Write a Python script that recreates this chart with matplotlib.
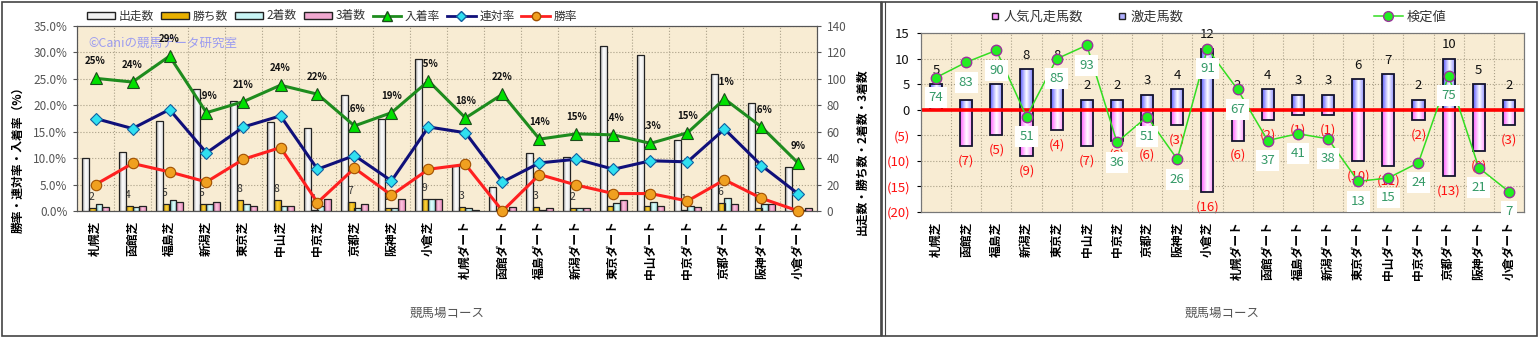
import numpy as np
import matplotlib
matplotlib.use('Agg')
import matplotlib.pyplot as plt
from matplotlib.colors import LinearSegmentedColormap
from matplotlib.lines import Line2D
from matplotlib.patches import Patch, Rectangle
from matplotlib.ticker import FuncFormatter

plt.rcParams['font.family'] = ['Noto Sans CJK JP', 'DejaVu Sans']

# course list (turf then dirt)
courses = ['札幌芝', '函館芝', '福島芝', '新潟芝', '東京芝', '中山芝', '中京芝', '京都芝', '阪神芝', '小倉芝',
           '札幌ダート', '函館ダート', '福島ダート', '新潟ダート', '東京ダート', '中山ダート', '中京ダート',
           '京都ダート', '阪神ダート', '小倉ダート']

# counts (right axis of the left chart)
runs = [40, 45, 68, 92, 83, 67, 63, 88, 70, 115, 34, 18, 44, 41, 125, 118, 54, 104, 82, 33]
wins = [2, 4, 5, 5, 8, 8, 1, 7, 2, 9, 3, 0, 3, 2, 4, 4, 1, 6, 2, 0]
second = [5, 3, 8, 5, 5, 4, 4, 2, 2, 9, 2, 1, 1, 2, 6, 7, 4, 10, 5, 1]
third = [3, 4, 7, 7, 4, 4, 9, 5, 9, 9, 1, 3, 2, 2, 8, 4, 3, 5, 5, 2]

# rates in % (left axis)
place_rate = [25.1, 24.4, 29.3, 18.6, 20.7, 23.8, 22.1, 16.1, 18.6, 24.6,
              17.6, 22.1, 13.6, 14.6, 14.4, 12.8, 14.8, 21.2, 15.9, 9.0]
quinella_rate = [17.5, 15.6, 19.2, 11.0, 15.9, 18.0, 7.9, 10.5, 5.7, 15.9,
                 14.8, 5.5, 9.1, 9.8, 7.9, 9.5, 9.3, 15.5, 8.6, 3.2]
win_rate = [5.0, 9.0, 7.4, 5.5, 9.8, 12.0, 1.6, 8.1, 3.0, 7.9,
            8.8, 0.0, 6.9, 4.9, 3.3, 3.3, 1.9, 5.9, 2.4, 0.0]

# right chart
hot_runs = [5, 2, 5, 8, 8, 2, 2, 3, 4, 12, 2, 4, 3, 3, 6, 7, 2, 10, 5, 2]      # 激走馬数
fav_flops = [0, 7, 5, 9, 4, 7, 6, 6, 3, 16, 6, 2, 1, 1, 10, 11, 2, 13, 8, 3]   # 人気凡走馬数
score = [74, 83, 90, 51, 85, 93, 36, 51, 26, 91, 67, 37, 41, 38, 13, 15, 24, 75, 21, 7]

W, H = 1539, 337
fig = plt.figure(figsize=(W / 100, H / 100), dpi=100)


def fx(px):
    return px / W


def fy(py):
    return 1 - py / H


def box(x0, y0, x1, y1):
    return [fx(x0), fy(y1), (x1 - x0) / W, (y1 - y0) / H]


BG = '#f8ecd3'
GRID = dict(color='#aaa088', linestyle=':', linewidth=0.8)


def shade(ax, bars, colors, z):
    # fill each bar with a horizontal gradient, clipped to the bar outline
    cmap = LinearSegmentedColormap.from_list('shade', colors)
    grad = np.linspace(0, 1, 64).reshape(1, -1)
    for b in bars:
        h = b.get_height()
        if h == 0:
            continue
        x0, y0, w = b.get_x(), b.get_y(), b.get_width()
        im = ax.imshow(grad, cmap=cmap, extent=(x0, x0 + w, y0, y0 + h),
                       aspect='auto', interpolation='bilinear', zorder=z)
        im.set_clip_path(b)


x = np.arange(len(courses))

# ---------------- left chart ----------------
ax_cnt = fig.add_axes(box(77, 26, 817, 211))
ax_cnt.set_facecolor(BG)
ax_rate = ax_cnt.twinx()

bw = 0.184
offs = [-1.5 * bw, -0.5 * bw, 0.5 * bw, 1.5 * bw]
bar_styles = [
    (runs, ['#9a9a9a', '#ffffff', '#e4e4e4']),
    (wins, ['#b88a00', '#ffd23a', '#e0a800']),
    (second, ['#6cbcbc', '#e6ffff', '#a8e8e8']),
    (third, ['#c0608e', '#ffc6e2', '#e88cbc']),
]
for off, (vals, cols) in zip(offs, bar_styles):
    bars = ax_cnt.bar(x + off, vals, bw, facecolor='none', edgecolor='#222222',
                      linewidth=0.9, zorder=3)
    shade(ax_cnt, bars, cols, 2.9)

for i, v in enumerate(wins):
    if v:
        ax_cnt.annotate(str(v), (i + offs[1], v), textcoords='offset pixels', xytext=(-1, 11),
                        ha='center', va='center', fontsize=7.5, color='#333333', zorder=2)

# place-rate labels sit behind the bars
for i, v in enumerate(place_rate):
    ax_cnt.annotate(f'{v:.0f}%', (i, v), xycoords=ax_rate.transData, textcoords='offset pixels',
                    xytext=(0, 17), ha='center', va='center', fontsize=7, fontweight='bold',
                    color='#111111', zorder=2)

ax_cnt.text(0.015, 0.908, '©Caniの競馬データ研究室', transform=ax_cnt.transAxes,
            color='#9c9cf0', fontsize=9, va='center', zorder=1)

ax_rate.plot(x, place_rate, color='#1e8c1e', lw=2.2, marker='^', ms=9, mfc='#00e000',
             mec='#1c4c1c', mew=0.8, zorder=4, clip_on=False)
ax_rate.plot(x, quinella_rate, color='#10107a', lw=2.2, marker='D', ms=6, mfc='#30e0f0',
             mec='#1060a0', mew=0.8, zorder=4, clip_on=False)
ax_rate.plot(x, win_rate, color='#ff2020', lw=2.2, marker='o', ms=7.5, mfc='#f0a020',
             mec='#a05000', mew=0.8, zorder=4, clip_on=False)

ax_rate.yaxis.tick_left()
ax_rate.yaxis.set_label_position('left')
ax_cnt.yaxis.tick_right()
ax_rate.set_ylim(0, 35)
ax_rate.set_yticks(np.arange(0, 36, 5))
ax_rate.yaxis.set_major_formatter(FuncFormatter(lambda v, p: f'{v:.1f}%'))
ax_cnt.set_ylim(0, 140)
ax_cnt.set_yticks(np.arange(0, 141, 20))
ax_cnt.set_xlim(-0.5, len(courses) - 0.5)

ax_cnt.set_axisbelow(True)
ax_cnt.yaxis.grid(True, **GRID)
ax_cnt.set_xticks(np.arange(-0.5, len(courses), 1), minor=True)
ax_cnt.xaxis.grid(True, which='minor', **GRID)
ax_cnt.set_xticks(x)
ax_cnt.set_xticklabels(courses, rotation=90, fontsize=8.5, fontweight='bold')
ax_cnt.tick_params(axis='x', which='both', length=0, pad=7)
for a in (ax_cnt, ax_rate):
    a.tick_params(axis='y', labelsize=8.5, colors='#555555', length=3, pad=4)
    for s in a.spines.values():
        s.set_color('#555555')

fig.text(fx(18), fy(157), '勝率・連対率・入着率（%）', rotation=90, ha='center', va='center',
         fontsize=8.5, fontweight='bold')
fig.text(fx(862), fy(152), '出走数・勝ち数・2着数・3着数', rotation=90, ha='center', va='center',
         fontsize=8.5, fontweight='bold')
fig.text(fx(447), fy(313), '競馬場コース', ha='center', va='center', fontsize=9, color='#555555')

left_handles = [
    Patch(facecolor='#f2f2f2', edgecolor='#222222'),
    Patch(facecolor='#e8b000', edgecolor='#222222'),
    Patch(facecolor='#c8f4f4', edgecolor='#222222'),
    Patch(facecolor='#f0a8d0', edgecolor='#222222'),
    Line2D([], [], color='#1e8c1e', lw=2, marker='^', ms=7, mfc='#00e000', mec='#1c4c1c'),
    Line2D([], [], color='#10107a', lw=2, marker='D', ms=5, mfc='#30e0f0', mec='#1060a0'),
    Line2D([], [], color='#ff2020', lw=2, marker='o', ms=6, mfc='#f0a020', mec='#a05000'),
]
left_labels = ['出走数', '勝ち数', '2着数', '3着数', '入着率', '連対率', '勝率']
fig.legend(left_handles, left_labels, loc='center left', bbox_to_anchor=(fx(76), fy(16)),
           ncol=7, frameon=False, fontsize=8.5, handlelength=2.4, handleheight=0.55,
           columnspacing=0.6, handletextpad=0.3, labelcolor='#333333')

# ---------------- right chart ----------------
axr = fig.add_axes(box(921, 33.3, 1524, 212))
axr.set_facecolor(BG)
axr2 = axr.twinx()

hot_bars = axr.bar(x, hot_runs, 0.4, facecolor='none', edgecolor='#14142e', linewidth=1.3, zorder=3)
shade(axr, hot_bars, ['#5a5aff', '#ffffff', '#7c7cff'], 2.9)
flop_bars = axr.bar(x, [-v for v in fav_flops], 0.4, facecolor='none', edgecolor='#14142e',
                    linewidth=1.3, zorder=3)
shade(axr, flop_bars, ['#ff5cff', '#ffffff', '#ff86ff'], 2.9)
axr.axhline(0, color='#ff0000', lw=2.6, zorder=5)

for i, v in enumerate(hot_runs):
    axr.annotate(str(v), (i, v), textcoords='offset pixels', xytext=(0, 14),
                 ha='center', va='center', fontsize=9.5, color='#111111', zorder=4)
for i, v in enumerate(fav_flops):
    if v:
        axr.annotate(f'({v})', (i, -v), textcoords='offset pixels', xytext=(0, -15),
                     ha='center', va='center', fontsize=9.5, color='#ff1010', zorder=4)

axr2.plot(x, score, color='#33dd22', lw=1.1, marker='o', ms=7.5, mfc='#22ee22',
          mec='#993399', mew=1, zorder=4, clip_on=False)
for i, v in enumerate(score):
    t = axr2.annotate(str(v), (i, v), textcoords='offset pixels', xytext=(0, -20),
                      ha='center', va='center', fontsize=9.5, color='#339966', zorder=5,
                      bbox=dict(boxstyle='square,pad=0.3', facecolor='white', edgecolor='none'))
    t.set_clip_on(True)

axr.set_xlim(-0.5, len(courses) - 0.5)
axr.set_ylim(-20, 15)
axr2.set_ylim(-5, 100)
axr2.set_yticks([])
rticks = np.arange(-20, 16, 5)
axr.set_yticks(rticks)
axr.set_yticklabels([f'({-v})' if v < 0 else str(v) for v in rticks])
for lab, v in zip(axr.get_yticklabels(), rticks):
    lab.set_color('#ff1010' if v < 0 else '#111111')
axr.tick_params(axis='y', labelsize=9.5, length=3, pad=5)
axr.set_axisbelow(True)
axr.yaxis.grid(True, **GRID)
axr.set_xticks(np.arange(-0.5, len(courses), 1), minor=True)
axr.xaxis.grid(True, which='minor', **GRID)
axr.set_xticks(x)
axr.set_xticklabels(courses, rotation=90, fontsize=8.5, fontweight='bold')
axr.tick_params(axis='x', which='both', length=0, pad=7)
for a in (axr, axr2):
    for s in a.spines.values():
        s.set_color('#777777')

fig.text(fx(1222), fy(313), '競馬場コース', ha='center', va='center', fontsize=9, color='#555555')

bar_handles = [
    Line2D([], [], ls='none', marker='s', ms=5, mfc='#ff9cff', mec='#222222'),
    Line2D([], [], ls='none', marker='s', ms=5, mfc='#b0b0ff', mec='#222222'),
]
fig.legend(bar_handles, ['人気凡走馬数', '激走馬数'], loc='center left',
           bbox_to_anchor=(fx(978), fy(17)), ncol=2, frameon=False, fontsize=9.5,
           handlelength=0.8, handletextpad=0.2, columnspacing=2.6, labelcolor='#333333')
fig.legend([Line2D([], [], color='#33dd22', lw=1.1, marker='o', ms=7, mfc='#22ee22',
                   mec='#993399')], ['検定値'], loc='center left',
           bbox_to_anchor=(fx(1362), fy(17)), frameon=False, fontsize=9.5,
           handlelength=2.2, handletextpad=0.3, labelcolor='#333333')

# panel frames
fig.add_artist(Rectangle((fx(1.5), fy(335.5)), 879 / W, 334 / H, transform=fig.transFigure,
                         fill=False, edgecolor='#444444', lw=1.2))
fig.add_artist(Rectangle((fx(882), fy(335.5)), 655 / W, 334 / H, transform=fig.transFigure,
                         fill=False, edgecolor='#444444', lw=1.2))
fig.add_artist(Line2D([fx(885), fx(885)], [fy(2), fy(335)], transform=fig.transFigure,
                      color='#444444', lw=0.8))

fig.savefig('out.png', dpi=100)
